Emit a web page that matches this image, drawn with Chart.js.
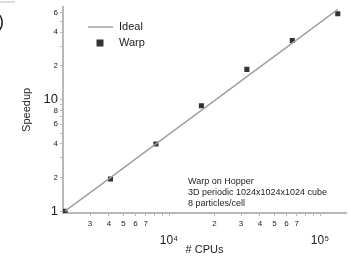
<!DOCTYPE html>
<html>
<head>
<meta charset="utf-8">
<script src="https://cdn.jsdelivr.net/npm/chart.js@4/dist/chart.umd.min.js"></script>
<style>
  html, body { margin: 0; padding: 0; background: #fff; }
  #wrap { width: 351px; height: 259px; }
</style>
</head>
<body>
<div id="wrap"><canvas id="myChart" width="351" height="259"></canvas></div>
<script>
// data
const cpus = [2048, 4096, 8192, 16384, 32768, 65536, 131072];
const idealSpeedup = [1, 2, 4, 8, 16, 32, 64];
const warpSpeedup = [1, 1.94, 4.0, 8.8, 18.6, 33.7, 58.5];

const xTickValues = [3000, 4000, 5000, 6000, 7000, 8000, 9000, 10000,
    20000, 30000, 40000, 50000, 60000, 70000, 80000, 90000, 100000];
const xTickLabels = ['3', '4', '5', '6', '7', '', '', '10\u2074',
    '2', '3', '4', '5', '6', '7', '', '', '10\u2075'];
const yTickValues = [1, 2, 3, 4, 5, 6, 7, 8, 9, 10, 20, 30, 40, 50, 60];
const yTickLabels = ['1', '2', '', '4', '', '6', '', '8', '', '10', '2', '', '4', '', '6'];

const noteLines = ['Warp on Hopper', '3D periodic 1024x1024x1024 cube', '8 particles/cell'];

const FONT = 'Helvetica, Arial, "Liberation Sans", sans-serif';
const AXIS = '#b8b8b8';
const INK = '#222';

function pairs(xs, ys) {
    return xs.map((x, i) => ({x: x, y: ys[i]}));
}

function isDecade(v) {
    return Math.abs(Math.log10(v) - Math.round(Math.log10(v))) < 1e-9;
}

// legend + annotation drawn inside the plot
const overlay = {
    id: 'overlay',
    afterDatasetsDraw(chart) {
        const ctx = chart.ctx;
        const ideal = chart.data.datasets[0];
        const warp = chart.data.datasets[1];
        ctx.save();
        // cut-off panel letter of the original figure
        ctx.fillStyle = '#ddd';
        ctx.fillRect(0, 1, 15, 2);
        ctx.fillStyle = INK;
        ctx.font = '18px ' + FONT;
        ctx.textBaseline = 'alphabetic';
        ctx.fillText(')', -2, 27);

        ctx.strokeStyle = ideal.borderColor;
        ctx.lineWidth = ideal.borderWidth;
        ctx.beginPath();
        ctx.moveTo(88, 27);
        ctx.lineTo(113, 27);
        ctx.stroke();
        ctx.fillStyle = warp.backgroundColor;
        ctx.fillRect(96.5, 39.5, 7, 7);

        ctx.fillStyle = INK;
        ctx.textBaseline = 'middle';
        ctx.font = '11px ' + FONT;
        ctx.fillText(ideal.label, 119, 27);
        ctx.fillText(warp.label, 119, 43);

        ctx.font = '9px ' + FONT;
        noteLines.forEach((t, i) => ctx.fillText(t, 188, 182 + i * 10.7));
        ctx.restore();
    }
};

new Chart(document.getElementById('myChart').getContext('2d'), {
    type: 'scatter',
    data: {
        datasets: [{
            label: 'Ideal',
            data: pairs(cpus, idealSpeedup),
            showLine: true,
            borderColor: '#a0a0a0',
            borderWidth: 1.5,
            pointRadius: 0,
            fill: false
        }, {
            label: 'Warp',
            data: pairs(cpus, warpSpeedup),
            showLine: false,
            pointStyle: 'rect',
            pointRadius: 3.6,
            backgroundColor: '#333',
            borderColor: '#333',
            borderWidth: 0
        }]
    },
    options: {
        responsive: false,
        animation: false,
        layout: { padding: { top: 5, right: 5, left: 0, bottom: 0 } },
        plugins: {
            legend: { display: false },
            tooltip: { enabled: false }
        },
        scales: {
            x: {
                type: 'logarithmic',
                min: 1986,
                max: 148600,
                afterFit(scale) { scale.height = 46; },
                afterBuildTicks(scale) {
                    scale.ticks = xTickValues.map(v => ({value: v}));
                },
                border: { color: AXIS, width: 2 },
                grid: { drawOnChartArea: false, drawTicks: true, tickLength: 3, color: AXIS },
                ticks: {
                    autoSkip: false,
                    maxRotation: 0,
                    padding: 3,
                    color: INK,
                    font: (c) => ({family: FONT, size: c.tick && isDecade(c.tick.value) ? 12 : 8}),
                    callback: (v, i) => {
                        const label = xTickLabels[i];
                        return isDecade(v) ? ['', label] : label;
                    }
                },
                title: {
                    display: true,
                    text: '# CPUs',
                    color: INK,
                    font: { family: FONT, size: 11 },
                    padding: { top: 0, bottom: 2 }
                }
            },
            y: {
                type: 'logarithmic',
                min: 0.964,
                max: 67.5,
                afterFit(scale) { scale.width = 63; },
                afterBuildTicks(scale) {
                    scale.ticks = yTickValues.map(v => ({value: v}));
                },
                border: { color: AXIS, width: 2 },
                grid: { drawOnChartArea: false, drawTicks: true, tickLength: 3, color: AXIS },
                ticks: {
                    autoSkip: false,
                    padding: 2,
                    color: INK,
                    font: (c) => ({family: FONT, size: c.tick && isDecade(c.tick.value) ? 13 : 8}),
                    callback: (v, i) => yTickLabels[i]
                },
                title: {
                    display: true,
                    text: 'Speedup',
                    color: INK,
                    font: { family: FONT, size: 11 },
                    padding: { top: 20, bottom: 0 }
                }
            }
        }
    },
    plugins: [overlay]
});
</script>
</body>
</html>
